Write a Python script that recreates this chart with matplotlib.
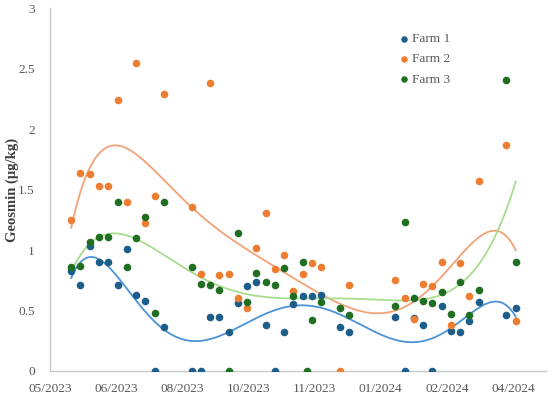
import matplotlib
matplotlib.use("Agg")
import matplotlib.pyplot as plt
import matplotlib.dates as mdates
import numpy as np
import pandas as pd

# sampling dates and geosmin values (ug/kg)
farm1_dates = ['2023-05-20', '2023-05-27', '2023-06-03', '2023-06-10', '2023-06-17', '2023-06-24',
               '2023-07-01', '2023-07-08', '2023-07-15', '2023-07-22', '2023-07-29', '2023-08-19',
               '2023-08-26', '2023-09-02', '2023-09-09', '2023-09-16', '2023-09-23', '2023-09-30',
               '2023-10-07', '2023-10-14', '2023-10-21', '2023-10-28', '2023-11-04', '2023-11-11',
               '2023-11-18', '2023-11-25', '2023-12-09', '2023-12-16', '2024-01-20', '2024-01-27',
               '2024-02-03', '2024-02-10', '2024-02-17', '2024-02-24', '2024-03-02', '2024-03-09',
               '2024-03-16', '2024-03-23', '2024-04-13', '2024-04-20']
farm1_vals = [0.83, 0.71, 1.03, 0.90, 0.90, 0.71,
              1.01, 0.63, 0.58, 0.00, 0.36, 0.00,
              0.00, 0.45, 0.45, 0.32, 0.56, 0.70,
              0.74, 0.38, 0.00, 0.32, 0.55, 0.62,
              0.62, 0.63, 0.36, 0.32, 0.45, 0.00,
              0.44, 0.38, 0.00, 0.54, 0.33, 0.32,
              0.41, 0.57, 0.46, 0.52]

farm2_dates = ['2023-05-20', '2023-05-27', '2023-06-03', '2023-06-10', '2023-06-17', '2023-06-24',
               '2023-07-01', '2023-07-08', '2023-07-15', '2023-07-22', '2023-07-29', '2023-08-19',
               '2023-08-26', '2023-09-02', '2023-09-09', '2023-09-16', '2023-09-23', '2023-09-30',
               '2023-10-07', '2023-10-14', '2023-10-21', '2023-10-28', '2023-11-04', '2023-11-11',
               '2023-11-18', '2023-11-25', '2023-12-09', '2023-12-16', '2024-01-20', '2024-01-27',
               '2024-02-03', '2024-02-10', '2024-02-17', '2024-02-24', '2024-03-02', '2024-03-09',
               '2024-03-16', '2024-03-23', '2024-04-13', '2024-04-20']
farm2_vals = [1.25, 1.64, 1.63, 1.53, 1.53, 2.24,
              1.40, 2.55, 1.22, 1.45, 2.29, 1.36,
              0.80, 2.38, 0.79, 0.80, 0.60, 0.52,
              1.02, 1.31, 0.84, 0.96, 0.66, 0.80,
              0.89, 0.86, 0.00, 0.71, 0.75, 0.60,
              0.43, 0.72, 0.70, 0.90, 0.38, 0.89,
              0.62, 1.57, 1.87, 0.41]

farm3_dates = ['2023-05-20', '2023-05-27', '2023-06-03', '2023-06-10', '2023-06-17', '2023-06-24',
               '2023-07-01', '2023-07-08', '2023-07-15', '2023-07-22', '2023-07-29', '2023-08-19',
               '2023-08-26', '2023-09-02', '2023-09-09', '2023-09-16', '2023-09-23', '2023-09-30',
               '2023-10-07', '2023-10-14', '2023-10-21', '2023-10-28', '2023-11-04', '2023-11-11',
               '2023-11-14', '2023-11-18', '2023-11-25', '2023-12-09', '2023-12-16', '2024-01-20',
               '2024-01-27', '2024-02-03', '2024-02-10', '2024-02-17', '2024-02-24', '2024-03-02',
               '2024-03-09', '2024-03-16', '2024-03-23', '2024-04-13', '2024-04-20']
farm3_vals = [0.86, 0.87, 1.07, 1.11, 1.11, 1.40,
              0.86, 1.10, 1.27, 0.48, 1.40, 0.86,
              0.72, 0.71, 0.67, 0.00, 1.14, 0.57,
              0.81, 0.74, 0.71, 0.85, 0.62, 0.90,
              0.00, 0.42, 0.57, 0.52, 0.46, 0.54,
              1.23, 0.60, 0.58, 0.56, 0.65, 0.47,
              0.74, 0.46, 0.67, 2.41, 0.90]

tick_dates = ['2023-05-04', '2023-06-23', '2023-08-12', '2023-10-01',
              '2023-11-20', '2024-01-09', '2024-02-28', '2024-04-18']
series = ['Farm 1', 'Farm 2', 'Farm 3']
dot_colors = ['#1d5d8a', '#ed7d31', '#1f6e21']
trend_colors = ['#4b92d6', '#f2a274', '#a8dc8e']

plt.rcParams['font.family'] = ['Liberation Serif', 'DejaVu Serif']

fig = plt.figure(figsize=(5.5, 3.98), dpi=100)
ax = fig.add_axes([0.091, 0.068, 0.902, 0.911])

all_dates = [farm1_dates, farm2_dates, farm3_dates]
all_vals = [farm1_vals, farm2_vals, farm3_vals]

# trendlines first (6th order polynomial, like the Excel trendline)
for d, v, tc in zip(all_dates, all_vals, trend_colors):
    x = mdates.date2num(pd.to_datetime(d))
    x0 = x.mean()
    coef = np.polyfit(x - x0, v, 6)
    xs = np.linspace(x.min(), x.max(), 300)
    ax.plot(xs, np.polyval(coef, xs - x0), color=tc, lw=1.3, zorder=2)

for d, v, name, c in zip(all_dates, all_vals, series, dot_colors):
    x = mdates.date2num(pd.to_datetime(d))
    ax.scatter(x, v, s=30, color=c, label=name, zorder=3, linewidths=0)

ticks = mdates.date2num(pd.to_datetime(tick_dates))
ax.set_xticks(ticks)
ax.set_xticklabels([pd.Timestamp(t).strftime('%m/%Y') for t in tick_dates])
ax.set_xlim(ticks[0], ticks[0] + 375)
ax.set_ylim(0, 3)
ax.set_yticks([0, 0.5, 1, 1.5, 2, 2.5, 3])
ax.set_yticklabels(['0', '0.5', '1', '1.5', '2', '2.5', '3'])

for s in ['top', 'right']:
    ax.spines[s].set_visible(False)
for s in ['left', 'bottom']:
    ax.spines[s].set_color('#c8c8c8')
    ax.spines[s].set_linewidth(1.0)
ax.tick_params(length=0, labelsize=9.6, colors='#595959')
ax.tick_params(axis='x', pad=9)
ax.tick_params(axis='y', pad=11)
ax.set_ylabel('Geosmin (\u00b5g/kg)', fontsize=10.5, fontweight='bold', color='#404040')
ax.yaxis.set_label_coords(-0.062, 0.5)

ax.legend(loc='upper left', bbox_to_anchor=(0.70, 0.948), bbox_transform=fig.transFigure,
          frameon=False, fontsize=9.6, handlelength=1.0, handletextpad=0.15, labelspacing=0.6,
          markerscale=0.85, labelcolor='#595959')

fig.savefig('out.png', dpi=100)
